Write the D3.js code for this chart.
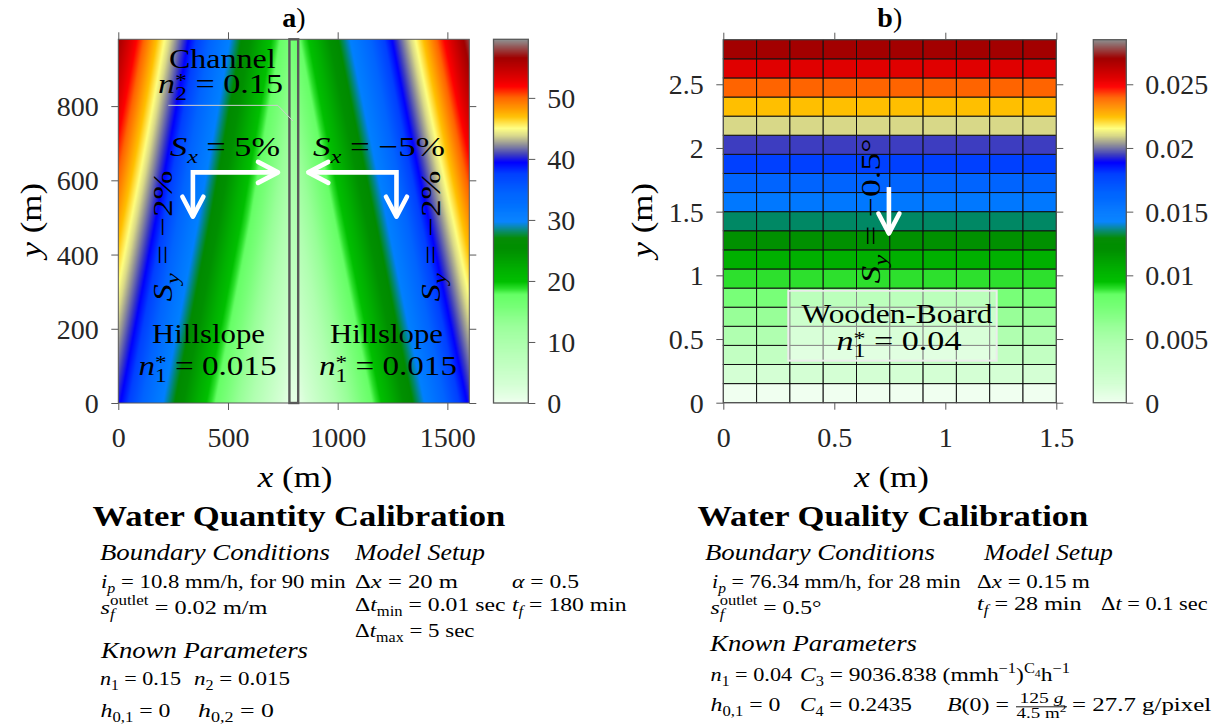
<!DOCTYPE html>
<html>
<head>
<meta charset="utf-8">
<title>Calibration domains</title>
<script src="https://cdn.jsdelivr.net/npm/d3@7/dist/d3.min.js"></script>
<style>
  html, body { margin: 0; padding: 0; background: #ffffff; }
  svg { display: block; }
  text { white-space: pre; }
</style>
</head>
<body>
<svg id="fig" width="1221" height="728"></svg>
<script>
// ---------------- data ----------------
// Panel a: elevation field (m) of the two hillslopes and the channel, at grid nodes
const fieldX = [0, 200, 400, 600, 780, 820, 1000, 1200, 1400, 1600];
const fieldY = [0, 490, 980];
const fieldZ = [
  [40.0, 30.0, 20.0, 10.0, 1.0, 1.0, 10.0, 20.0, 30.0, 40.0],
  [48.0, 38.0, 28.0, 18.0, 8.4, 9.2, 18.5, 28.5, 38.7, 48.7],
  [56.5, 45.7, 35.4, 25.1, 15.7, 17.5, 27.0, 37.0, 47.5, 58.0]
];
const channelX = [780, 820];
const colorbarAMax = 59.6;
const xTicksA = [0, 500, 1000, 1500];
const yTicksA = [0, 200, 400, 600, 800];
const cbTicksA = [0, 10, 20, 30, 40, 50];

// Panel b: wooden board, 0.15 m cells, one value per row (bottom to top)
const boardCell = 0.15;
const boardCols = 10;
const rowValues = [0.0000, 0.0015, 0.0030, 0.0045, 0.0060, 0.0075, 0.0090, 0.0105, 0.0120, 0.0135,
                   0.0150, 0.0165, 0.0180, 0.0195, 0.0210, 0.0225, 0.0240, 0.0255, 0.0270];
const colorbarBMax = 0.0285;
const xTicksB = [0, 0.5, 1, 1.5];
const yTicksB = [0, 0.5, 1, 1.5, 2, 2.5];
const cbTicksB = [0, 0.005, 0.01, 0.015, 0.02, 0.025];
const cbLabelsB = ["0", "0.005", "0.01", "0.015", "0.02", "0.025"];

// Colormap: fraction of the colour range -> colour
const cmapPos = [0, 0.0526, 0.105, 0.158, 0.2105, 0.263, 0.30, 0.316, 0.335, 0.368, 0.421, 0.455,
                 0.474, 0.50, 0.526, 0.579, 0.632, 0.663, 0.684, 0.712, 0.737, 0.757, 0.789,
                 0.842, 0.872, 0.895, 0.950, 1.0];
const cmapCol = ["#f0fff0", "#d4ffd4", "#c2ffc2", "#b0ffb0", "#98ff98", "#78ff78", "#66ff66",
                 "#2ce02c", "#00c000", "#00b000", "#009000", "#008a00", "#008866", "#0080ff",
                 "#0078ff", "#0064ff", "#0040ff", "#0000ff", "#3c3cc0", "#909098", "#d8d888",
                 "#ffff80", "#ffc000", "#ff6400", "#ff0000", "#e00000", "#a00000", "#8c8c8c"];

// ---------------- setup ----------------
const FONT = "'Liberation Serif', 'Times New Roman', Times, serif";
const AX = "#595959", TX = "#262626";
const svg = d3.select("#fig");
const cmap = d3.scaleLinear().domain(cmapPos).range(cmapCol).interpolate(d3.interpolateRgb).clamp(true);

const xA = d3.scaleLinear().domain([0, 1600]).range([118.3, 469.3]);
const yA = d3.scaleLinear().domain([0, 980]).range([403, 39.3]);
const cA = d3.scaleLinear().domain([0, colorbarAMax]).range([403, 39.3]);

const xB = d3.scaleLinear().domain([0, boardCols * boardCell]).range([723.3, 1056.3]);
const yB = d3.scaleLinear().domain([0, rowValues.length * boardCell]).range([402.7, 39.7]);
const cB = d3.scaleLinear().domain([0, colorbarBMax]).range([402.7, 39.7]);

// rich text: parts are strings or {t, i, b, sub, sup, stack, lvl, size}
function mtext(parent, x, y, parts, o = {}) {
  const fs = o.size || 18;
  const t = parent.append("text").attr("x", x).attr("y", y)
    .attr("font-family", FONT)
    .attr("font-size", fs).attr("fill", o.fill || "#000")
    .attr("text-anchor", o.anchor || "start");
  t.node().setAttributeNS("http://www.w3.org/XML/1998/namespace", "xml:space", "preserve");
  if (o.bold) t.attr("font-weight", "bold");
  if (o.italic) t.attr("font-style", "italic");
  let cur = 0, prev = null;
  parts.forEach(p => {
    if (typeof p === "string") p = { t: p };
    const lvl = p.lvl !== undefined ? p.lvl : p.sub ? 0.24 : p.sup ? -0.4 : 0;
    const size = p.size || (p.sub || p.sup ? 0.7 : 1);
    const target = lvl * fs;
    const ts = t.append("tspan").text(p.t).attr("font-size", fs * size);
    if (p.i) ts.attr("font-style", "italic");
    if (p.b) ts.attr("font-weight", "bold");
    if (target !== cur) ts.attr("dy", target - cur);
    cur = target;
    if (p.stack && prev) ts.attr("dx", -prev.node().getComputedTextLength());
    prev = ts;
  });
  return t;
}
// stretch a text horizontally so it spans width w (anchored at x0)
function fit(t, x0, w, anchor = "start") {
  const bb = t.node().getBBox();
  const k = w / bb.width;
  const ref = anchor === "middle" ? bb.x + bb.width / 2 : bb.x;
  t.attr("transform", `translate(${x0},0) scale(${k},1) translate(${-ref},0)`);
}
function label(parent, x, y, parts, o, w) {
  const t = mtext(parent, x, y, parts, o);
  if (w) fit(t, x, w, o.anchor || "start");
  return t;
}
function rotLabel(parent, bx, cy, parts, o, len) {
  const g = parent.append("g").attr("transform", `translate(${bx},${cy}) rotate(-90)`);
  const t = mtext(g, 0, 0, parts, Object.assign({}, o, { anchor: "middle" }));
  if (len) fit(t, 0, len, "middle");
  return t;
}

function styleTicks(a) {
  a.attr("font-family", FONT).attr("font-size", 28);
  a.select(".domain").remove();
  a.selectAll(".tick line").attr("stroke", AX).attr("stroke-width", 1);
  a.selectAll(".tick text").attr("font-family", FONT).attr("font-size", 28).attr("fill", TX);
  return a;
}

function frame(g, xs, ys, xt, yt, xfmt, yfmt) {
  const [xl, xr] = xs.range();
  const [yb, ytp] = ys.range();
  const mk = (axis, tx, ty) =>
    styleTicks(g.append("g").attr("transform", `translate(${tx},${ty})`).call(axis));
  const bAx = mk(d3.axisBottom(xs).tickValues(xt).tickFormat(xfmt).tickSizeInner(7).tickSizeOuter(0), 0, yb);
  bAx.selectAll(".tick text").attr("y", 44).attr("dy", null);
  mk(d3.axisTop(xs).tickValues(xt).tickFormat(() => "").tickSizeInner(7).tickSizeOuter(0), 0, ytp);
  const lAx = mk(d3.axisLeft(ys).tickValues(yt).tickFormat(yfmt).tickSizeInner(7).tickSizeOuter(0), xl, 0);
  lAx.selectAll(".tick text").attr("x", -19.5).attr("dy", "0.34em");
  mk(d3.axisRight(ys).tickValues(yt).tickFormat(() => "").tickSizeInner(7).tickSizeOuter(0), xr, 0);
  g.append("rect").attr("x", xl).attr("y", ytp).attr("width", xr - xl).attr("height", yb - ytp)
    .attr("fill", "none").attr("stroke", AX).attr("stroke-width", 1);
}

function colorbar(g, scale, x0, w, ticks, fmt) {
  const [yb, ytp] = scale.range();
  const max = scale.domain()[1];
  const n = 360;
  g.append("g").selectAll("rect").data(d3.range(n)).join("rect")
    .attr("x", x0).attr("width", w)
    .attr("y", i => scale(max * (i + 1) / n))
    .attr("height", i => scale(max * i / n) - scale(max * (i + 1) / n) + 0.6)
    .attr("fill", i => cmap((i + 0.5) / n));
  g.append("rect").attr("x", x0).attr("y", ytp).attr("width", w).attr("height", yb - ytp)
    .attr("fill", "none").attr("stroke", AX).attr("stroke-width", 1.3);
  const a = styleTicks(g.append("g").attr("transform", `translate(${x0 + w},0)`)
    .call(d3.axisRight(scale).tickValues(ticks).tickFormat(fmt).tickSizeInner(7).tickSizeOuter(0)));
  a.selectAll(".tick text").attr("x", 19).attr("dy", "0.34em");
}

function whiteArrow(g, shaft, tips) {
  g.append("path").attr("d", d3.line()(shaft)).attr("fill", "none").attr("stroke", "#fff")
    .attr("stroke-width", 4.6).attr("stroke-linejoin", "miter").attr("stroke-linecap", "butt");
  tips.forEach(([tx, ty, ux, uy]) => {
    const L = 20, W = 10.5;
    const px = -uy, py = ux;
    const p1 = [tx - L * ux + W * px, ty - L * uy + W * py];
    const p2 = [tx - L * ux - W * px, ty - L * uy - W * py];
    g.append("path").attr("d", d3.line()([p1, [tx, ty], p2])).attr("fill", "none")
      .attr("stroke", "#fff").attr("stroke-width", 4.6)
      .attr("stroke-linecap", "round").attr("stroke-linejoin", "round");
  });
}

// ---------------- panel a ----------------
const gA = svg.append("g");
function fieldAt(x, y) {
  const i = Math.min(Math.max(d3.bisectRight(fieldX, x) - 1, 0), fieldX.length - 2);
  const j = Math.min(Math.max(d3.bisectRight(fieldY, y) - 1, 0), fieldY.length - 2);
  const tx = (x - fieldX[i]) / (fieldX[i + 1] - fieldX[i]);
  const ty = (y - fieldY[j]) / (fieldY[j + 1] - fieldY[j]);
  const z0 = fieldZ[j][i] * (1 - tx) + fieldZ[j][i + 1] * tx;
  const z1 = fieldZ[j + 1][i] * (1 - tx) + fieldZ[j + 1][i + 1] * tx;
  return z0 * (1 - ty) + z1 * ty;
}
{
  const x0 = xA.range()[0], y0 = yA.range()[1];
  const W = Math.round(xA.range()[1] - x0), H = Math.round(yA.range()[0] - y0);
  const cv = document.createElement("canvas");
  cv.width = W; cv.height = H;
  const ctx = cv.getContext("2d");
  const img = ctx.createImageData(W, H);
  for (let py = 0; py < H; py++) {
    const yv = yA.invert(y0 + py + 0.5);
    for (let px = 0; px < W; px++) {
      const xv = xA.invert(x0 + px + 0.5);
      const c = d3.rgb(cmap(fieldAt(xv, yv) / colorbarAMax));
      const k = (py * W + px) * 4;
      img.data[k] = c.r; img.data[k + 1] = c.g; img.data[k + 2] = c.b; img.data[k + 3] = 255;
    }
  }
  ctx.putImageData(img, 0, 0);
  gA.append("image").attr("href", cv.toDataURL()).attr("x", x0).attr("y", y0)
    .attr("width", xA.range()[1] - x0).attr("height", yA.range()[0] - y0)
    .attr("preserveAspectRatio", "none");
}
// channel outline
gA.append("rect").attr("x", xA(channelX[0])).attr("y", yA(980))
  .attr("width", xA(channelX[1]) - xA(channelX[0])).attr("height", yA(0) - yA(980))
  .attr("fill", "none").attr("stroke", "#5a5a5a").attr("stroke-width", 2.4);
frame(gA, xA, yA, xTicksA, yTicksA, d3.format("d"), d3.format("d"));
colorbar(gA, cA, 493.5, 34.8, cbTicksA, d3.format("d"));

// leader from the channel label
gA.append("path").attr("d", d3.line()([[xA(228), yA(802)], [xA(727), yA(802)], [xA(796), yA(760)]]))
  .attr("fill", "none").attr("stroke", "#cfcfcf").attr("stroke-width", 1);

// flow-direction arrows
whiteArrow(gA, [[xA(340), yA(502)], [xA(340), yA(621.5)], [xA(728), yA(621.5)]],
  [[xA(728), yA(621.5), 1, 0], [xA(340), yA(502), 0, 1]]);
whiteArrow(gA, [[xA(1268), yA(502)], [xA(1268), yA(621.5)], [xA(866), yA(621.5)]],
  [[xA(866), yA(621.5), -1, 0], [xA(1268), yA(502), 0, 1]]);

const F = 28;
const nStar = (k, v) => [{ t: "n", i: 1 }, { t: k, sub: 1 }, { t: "*", sup: 1, lvl: -0.2, stack: 1 }, " = " + v];
label(gA, 293.8, 27, [{ t: "a", b: 1 }, ")"], { size: F, anchor: "middle" });
label(gA, 222.5, 68, ["Channel"], { size: F, anchor: "middle" }, 107);
label(gA, 220.5, 93, nStar("2", "0.15"), { size: F, anchor: "middle" }, 125);
label(gA, 225, 156, [{ t: "S", i: 1 }, { t: "x", i: 1, sub: 1 }, " = 5%"], { size: F, anchor: "middle" }, 110);
label(gA, 379, 156, [{ t: "S", i: 1 }, { t: "x", i: 1, sub: 1 }, " = −5%"], { size: F, anchor: "middle" }, 132);
rotLabel(gA, 172, 236, [{ t: "S", i: 1 }, { t: "y", i: 1, sub: 1 }, " = −2%"], { size: F }, 131);
rotLabel(gA, 439.5, 236, [{ t: "S", i: 1 }, { t: "y", i: 1, sub: 1 }, " = −2%"], { size: F }, 131);
label(gA, 208.5, 343, ["Hillslope"], { size: F, anchor: "middle" }, 113);
label(gA, 207.5, 375, nStar("1", "0.015"), { size: F, anchor: "middle" }, 138);
label(gA, 386.5, 343, ["Hillslope"], { size: F, anchor: "middle" }, 113);
label(gA, 388, 375, nStar("1", "0.015"), { size: F, anchor: "middle" }, 138);
label(gA, 294.5, 487, [{ t: "x", i: 1 }, " (m)"], { size: 29, anchor: "middle" }, 76);
rotLabel(gA, 40.5, 222, [{ t: "y", i: 1 }, " (m)"], { size: 29 }, 78);

// ---------------- panel b ----------------
const gB = svg.append("g");
const cells = [];
rowValues.forEach((v, r) => d3.range(boardCols).forEach(c => cells.push({ r, c, v })));
gB.append("g").selectAll("rect").data(cells).join("rect")
  .attr("x", d => xB(d.c * boardCell))
  .attr("y", d => yB((d.r + 1) * boardCell))
  .attr("width", d => xB((d.c + 1) * boardCell) - xB(d.c * boardCell))
  .attr("height", d => yB(d.r * boardCell) - yB((d.r + 1) * boardCell))
  .attr("fill", d => cmap(d.v / colorbarBMax))
  .attr("stroke", "#111").attr("stroke-width", 1);
frame(gB, xB, yB, xTicksB, yTicksB, d3.format(""), d3.format(""));
colorbar(gB, cB, 1093.3, 33, cbTicksB, (d, i) => cbLabelsB[i]);

whiteArrow(gB, [[xB(0.746), yB(1.693)], [xB(0.746), yB(1.328)]], [[xB(0.746), yB(1.328), 0, 1]]);
rotLabel(gB, 880, 211, [{ t: "S", i: 1 }, { t: "y", i: 1, sub: 1 }, " = −0.5°"], { size: F }, 145);

gB.append("rect").attr("x", 788.3).attr("y", 290.7).attr("width", 208.4).attr("height", 70)
  .attr("fill", "#ffffff").attr("fill-opacity", 0.5)
  .attr("stroke", "#ececec").attr("stroke-width", 2);
label(gB, 897, 323, ["Wooden-Board"], { size: F, anchor: "middle" }, 191);
label(gB, 899, 350.5, nStar("1", "0.04"), { size: F, anchor: "middle" }, 125);

label(gB, 889.8, 27, [{ t: "b", b: 1 }, ")"], { size: F, anchor: "middle" });
label(gB, 891, 487, [{ t: "x", i: 1 }, " (m)"], { size: 29, anchor: "middle" }, 76);
rotLabel(gB, 652, 222, [{ t: "y", i: 1 }, " (m)"], { size: 29 }, 78);

// ---------------- calibration summaries ----------------
const gT = svg.append("g");
const H1 = { size: 30.5, bold: true }, H2 = { size: 24, italic: true }, P = { size: 19.5 };
const i_ = s => ({ t: s, i: 1 });
const sub = (s, it) => ({ t: s, sub: 1, i: it ? 1 : 0 });
const outlet = { t: "outlet", sup: 1, lvl: -0.45, stack: 1 };

// water quantity
label(gT, 92.5, 526, ["Water Quantity Calibration"], H1, 413);
label(gT, 100, 560, ["Boundary Conditions"], H2, 230);
label(gT, 354, 560, ["Model Setup"], H2, 131);
label(gT, 101, 588, [i_("i"), sub("p", 1), " = 10.8 mm/h, for 90 min"], P, 245);
label(gT, 355, 588, ["Δ", i_("x"), " = 20 m"], P, 103);
label(gT, 512, 588, [i_("α"), " = 0.5"], P, 67);
label(gT, 100.5, 614, [i_("s"), sub("f", 1), outlet, " = 0.02 m/m"], P, 167);
label(gT, 355, 611, ["Δ", i_("t"), sub("min"), " = 0.01 sec"], P, 151);
label(gT, 512, 611, [i_("t"), sub("f", 1), " = 180 min"], P, 115);
label(gT, 355, 637, ["Δ", i_("t"), sub("max"), " = 5 sec"], P, 120);
label(gT, 100, 658, ["Known Parameters"], H2, 208);
label(gT, 100, 685, [i_("n"), sub("1"), " = 0.15"], P, 81);
label(gT, 194, 685, [i_("n"), sub("2"), " = 0.015"], P, 96);
label(gT, 100.5, 717, [i_("h"), sub("0,1"), " = 0"], P, 70);
label(gT, 198, 717, [i_("h"), sub("0,2"), " = 0"], P, 76);

// water quality
label(gT, 697.5, 526, ["Water Quality Calibration"], H1, 391);
label(gT, 705, 560, ["Boundary Conditions"], H2, 230);
label(gT, 983, 560, ["Model Setup"], H2, 130);
label(gT, 712, 588, [i_("i"), sub("p", 1), " = 76.34 mm/h, for 28 min"], P, 249);
label(gT, 977, 588, ["Δ", i_("x"), " = 0.15 m"], P, 113);
label(gT, 710.5, 614, [i_("s"), sub("f", 1), outlet, " = 0.5°"], P, 111);
label(gT, 977, 610.5, [i_("t"), sub("f", 1), " = 28 min"], P, 105);
label(gT, 1101, 610.5, ["Δ", i_("t"), " = 0.1 sec"], P, 107);
label(gT, 709, 651, ["Known Parameters"], H2, 208);
label(gT, 710.5, 681, [i_("n"), sub("1"), " = 0.04"], P, 82);
label(gT, 800, 681, [i_("C"), sub("3"), " = 9036.838 (mmh", { t: "−1", sup: 1 }, ")",
  { t: "C", sup: 1 }, { t: "4", lvl: -0.2, size: 0.5 }, "h", { t: "−1", sup: 1 }], P, 270);
label(gT, 710.5, 711.5, [i_("h"), sub("0,1"), " = 0"], P, 70);
label(gT, 800, 711.5, [i_("C"), sub("4"), " = 0.2435"], P, 112);
label(gT, 947, 711.5, [i_("B"), "(0) ="], P, 62);
label(gT, 1041.5, 703, ["125 ", i_("g")], { size: 14, anchor: "middle" }, 44);
gT.append("line").attr("x1", 1016).attr("x2", 1067).attr("y1", 706.8).attr("y2", 706.8)
  .attr("stroke", "#000").attr("stroke-width", 0.9);
label(gT, 1041.5, 718, ["4.5 m", { t: "2", sup: 1 }], { size: 14, anchor: "middle" }, 50);
label(gT, 1072, 711.5, ["= 27.7 g/pixel"], P, 140);
</script>
</body>
</html>
